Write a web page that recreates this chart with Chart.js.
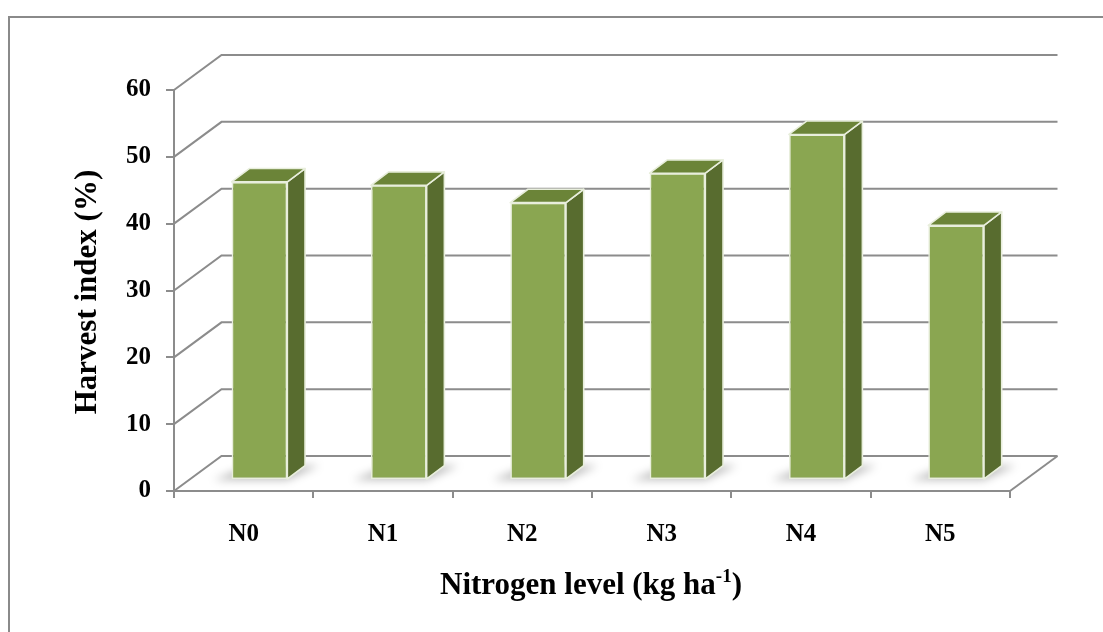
<!DOCTYPE html>
<html>
<head>
<meta charset="utf-8">
<script src="https://cdn.jsdelivr.net/npm/chart.js@4.4.1/dist/chart.umd.min.js"></script>
<style>
  html, body { margin: 0; padding: 0; background: #ffffff; }
  #wrap { width: 1103px; height: 632px; position: relative; }
</style>
</head>
<body>
<div id="wrap"><canvas id="c" width="1103" height="632"></canvas></div>
<script>
// ---- data ----
const categories = ['N0', 'N1', 'N2', 'N3', 'N4', 'N5'];
const harvestIndex = [44.6, 44.1, 41.5, 45.9, 51.7, 38.1];
const valueTicks = [0, 10, 20, 30, 40, 50, 60];
const yTitle = 'Harvest index (%)';
const xTitleMain = 'Nitrogen level (kg ha';
const xTitleSup = '-1';
const xTitleEnd = ')';

// ---- look ----
const FONT = '"Liberation Serif", "Times New Roman", serif';
const GRID = '#8c8c8c';
const WALL = { dx: 47.5, dy: -35 };     // depth of the back wall
const FACE = { dx: 15.8, dy: -11 };     // where the bar fronts sit on the floor
const DEPTH = { dx: 17.7, dy: -13.4 };  // thickness of each bar
const FRONT_C = '#8aa651';
const TOP_C = '#6b8438';
const SIDE_C = '#586c2f';
const EDGE_C = '#e8eedc';

const threeD = {
  id: 'threeD',
  beforeDraw(chart) {
    const ctx = chart.ctx;
    ctx.save();
    ctx.fillStyle = '#ffffff';
    ctx.fillRect(0, 0, chart.width, chart.height);
    ctx.strokeStyle = '#8a8a8a';
    ctx.lineWidth = 2;
    ctx.strokeRect(9, 17, chart.width + 40, chart.height + 40);
    ctx.restore();
  },
  beforeDatasetsDraw(chart) {
    const { ctx, chartArea: a, scales: { y } } = chart;
    ctx.save();
    ctx.strokeStyle = GRID;
    ctx.lineWidth = 2;
    // side wall diagonals + back wall gridlines
    valueTicks.forEach(v => {
      const py = y.getPixelForValue(v);
      ctx.beginPath();
      ctx.moveTo(a.left, py);
      ctx.lineTo(a.left + WALL.dx, py + WALL.dy);
      ctx.lineTo(a.right + WALL.dx, py + WALL.dy);
      ctx.stroke();
    });
    // right edge of the floor
    const p0 = y.getPixelForValue(0);
    ctx.beginPath();
    ctx.moveTo(a.right, p0);
    ctx.lineTo(a.right + WALL.dx, p0 + WALL.dy);
    ctx.stroke();

    // soft floor shadows beneath each bar
    const meta = chart.getDatasetMeta(0);
    ctx.filter = 'blur(4px)';
    ctx.fillStyle = 'rgba(0,0,0,0.26)';
    meta.data.forEach(el => {
      const xl = el.x - el.width / 2 + FACE.dx;
      const xr = el.x + el.width / 2 + FACE.dx;
      const yb = el.base + FACE.dy;
      ctx.beginPath();
      ctx.moveTo(xl - 18, yb + 1);
      ctx.lineTo(xr, yb + 1);
      ctx.lineTo(xr + DEPTH.dx + 14, yb + DEPTH.dy);
      ctx.lineTo(xl + DEPTH.dx, yb + DEPTH.dy);
      ctx.closePath();
      ctx.fill();
    });
    ctx.filter = 'none';
    ctx.restore();
  },
  beforeDatasetDraw(chart) {
    chart.ctx.save();
    chart.ctx.translate(FACE.dx, FACE.dy);
  },
  afterDatasetDraw(chart) {
    chart.ctx.restore();
  },
  afterDatasetsDraw(chart) {
    const ctx = chart.ctx;
    const meta = chart.getDatasetMeta(0);
    ctx.save();
    ctx.lineWidth = 1.6;
    ctx.strokeStyle = EDGE_C;
    ctx.lineJoin = 'round';
    meta.data.forEach(el => {
      const xl = el.x - el.width / 2 + FACE.dx;
      const xr = el.x + el.width / 2 + FACE.dx;
      const yt = el.y + FACE.dy;
      const yb = el.base + FACE.dy;
      // side face
      ctx.beginPath();
      ctx.moveTo(xr, yt);
      ctx.lineTo(xr + DEPTH.dx, yt + DEPTH.dy);
      ctx.lineTo(xr + DEPTH.dx, yb + DEPTH.dy);
      ctx.lineTo(xr, yb);
      ctx.closePath();
      ctx.fillStyle = SIDE_C;
      ctx.fill();
      ctx.stroke();
      // top face
      ctx.beginPath();
      ctx.moveTo(xl, yt);
      ctx.lineTo(xl + DEPTH.dx, yt + DEPTH.dy);
      ctx.lineTo(xr + DEPTH.dx, yt + DEPTH.dy);
      ctx.lineTo(xr, yt);
      ctx.closePath();
      ctx.fillStyle = TOP_C;
      ctx.fill();
      ctx.stroke();
    });
    ctx.restore();
  },
  afterDraw(chart) {
    const ctx = chart.ctx;
    ctx.save();
    ctx.fillStyle = '#000000';
    // value axis title
    ctx.translate(88, 292);
    ctx.rotate(-Math.PI / 2);
    ctx.font = 'bold 31px ' + FONT;
    ctx.textAlign = 'center';
    ctx.textBaseline = 'middle';
    ctx.fillText(yTitle, 0, 0);
    ctx.restore();

    // category axis title with superscript
    ctx.save();
    ctx.fillStyle = '#000000';
    ctx.textBaseline = 'alphabetic';
    ctx.textAlign = 'left';
    const big = 'bold 31px ' + FONT;
    const small = 'bold 19px ' + FONT;
    ctx.font = big;
    const w1 = ctx.measureText(xTitleMain).width;
    const w3 = ctx.measureText(xTitleEnd).width;
    ctx.font = small;
    const w2 = ctx.measureText(xTitleSup).width;
    let x = 591 - (w1 + w2 + w3) / 2;
    const base = 594;
    ctx.font = big;
    ctx.fillText(xTitleMain, x, base);
    x += w1;
    ctx.font = small;
    ctx.fillText(xTitleSup, x, base - 12);
    x += w2;
    ctx.font = big;
    ctx.fillText(xTitleEnd, x, base);
    ctx.restore();
  }
};

new Chart(document.getElementById('c'), {
  type: 'bar',
  data: {
    labels: categories,
    datasets: [{
      data: harvestIndex,
      backgroundColor: FRONT_C,
      borderColor: EDGE_C,
      borderWidth: 1.6,
      borderSkipped: false,
      categoryPercentage: 1,
      barPercentage: 0.4,
      clip: false
    }]
  },
  options: {
    responsive: false,
    animation: false,
    devicePixelRatio: 1,
    layout: { padding: { left: 0, top: 90, right: 93, bottom: 0 } },
    plugins: { legend: { display: false }, tooltip: { enabled: false } },
    scales: {
      x: {
        afterFit(s) { s.height = 141; },
        grid: { offset: true, drawOnChartArea: false, drawTicks: true, tickLength: 7, color: GRID, lineWidth: 2 },
        border: { display: true, color: GRID, width: 2 },
        ticks: { color: '#000', padding: 22, font: { family: FONT, size: 25, weight: 'bold' } }
      },
      y: {
        min: 0, max: 60,
        afterFit(s) { s.width = 174; },
        afterBuildTicks(s) { s.ticks = valueTicks.map(v => ({ value: v })); },
        grid: { drawOnChartArea: false, drawTicks: true, tickLength: 8, color: GRID, lineWidth: 2 },
        border: { display: true, color: GRID, width: 2 },
        ticks: { color: '#000', padding: 15, font: { family: FONT, size: 25, weight: 'bold' } }
      }
    }
  },
  plugins: [threeD]
});
</script>
</body>
</html>
